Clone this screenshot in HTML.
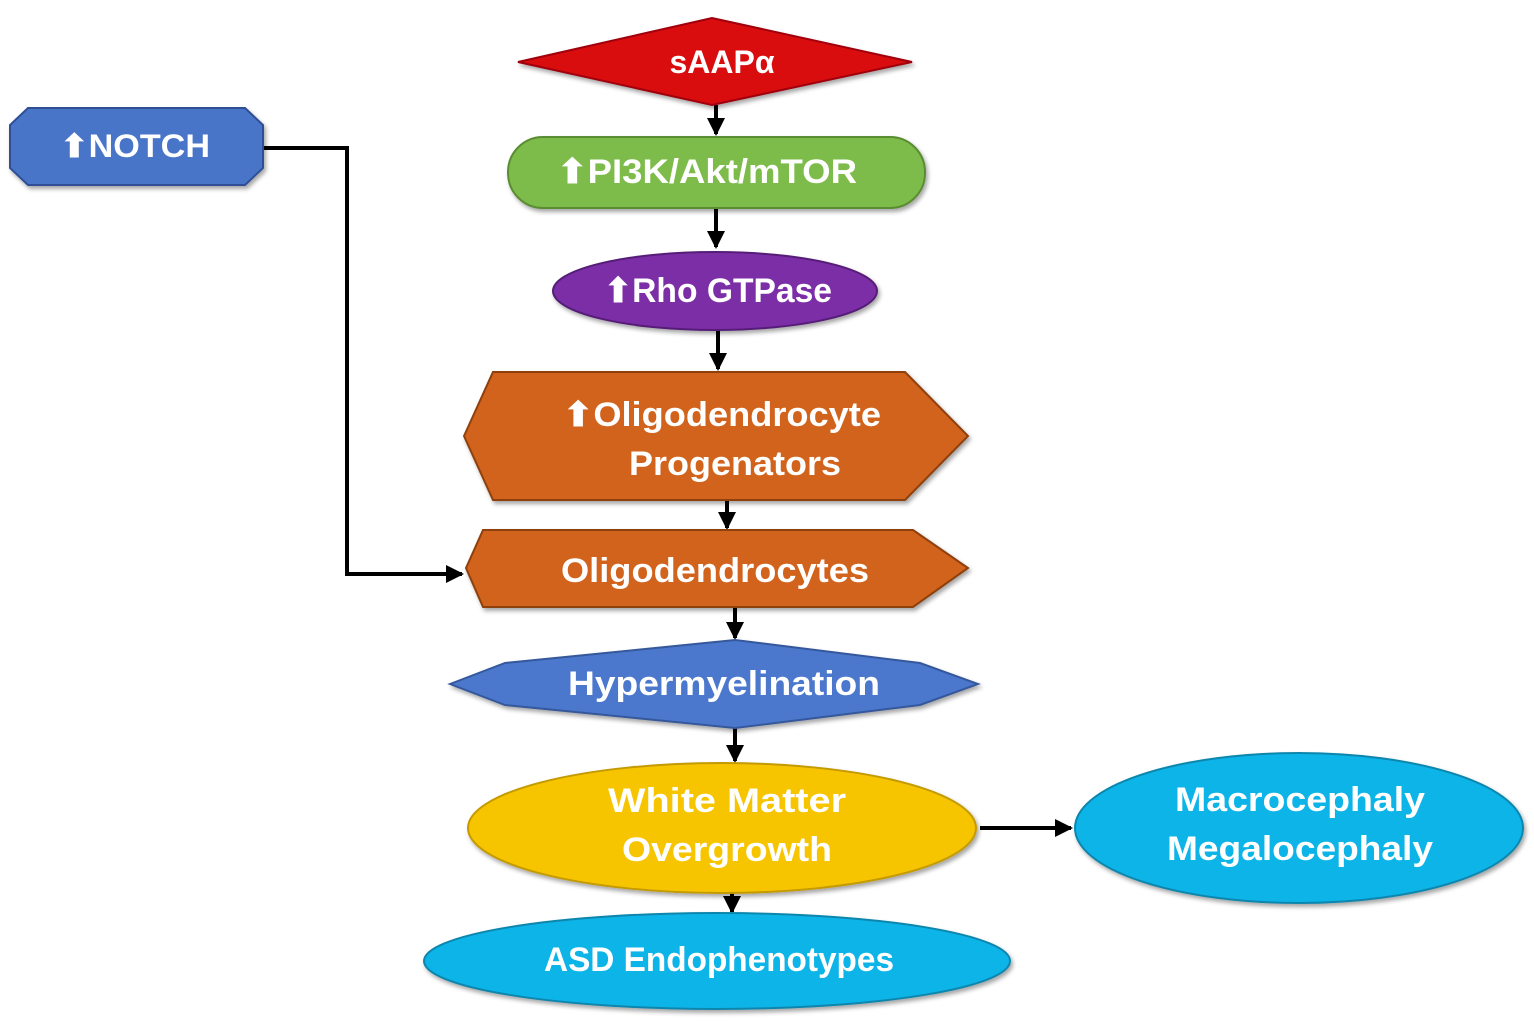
<!DOCTYPE html>
<html><head><meta charset="utf-8"><style>
html,body{margin:0;padding:0;background:#fff;}
svg{display:block;}
text{font-family:"Liberation Sans",sans-serif;font-weight:bold;fill:#fff;text-anchor:middle;dominant-baseline:central;}
</style></head><body>
<svg width="1534" height="1021" viewBox="0 0 1534 1021">
<defs>
<marker id="a" markerWidth="4.5" markerHeight="4.5" refX="4" refY="2.25" orient="auto" markerUnits="strokeWidth"><path d="M0,0 L4.5,2.25 L0,4.5 z" fill="#000"/></marker>
<filter id="s" x="-10%" y="-10%" width="120%" height="130%"><feDropShadow dx="2" dy="3" stdDeviation="2" flood-color="#000" flood-opacity="0.35"/></filter>
</defs>
<g stroke="#000" stroke-width="4" fill="none">
<line x1="716" y1="105" x2="716" y2="134" marker-end="url(#a)"/>
<line x1="716" y1="208" x2="716" y2="247" marker-end="url(#a)"/>
<line x1="718" y1="330" x2="718" y2="369" marker-end="url(#a)"/>
<line x1="727" y1="500" x2="727" y2="528" marker-end="url(#a)"/>
<line x1="735" y1="607" x2="735" y2="638" marker-end="url(#a)"/>
<line x1="735" y1="728" x2="735" y2="761" marker-end="url(#a)"/>
<line x1="732" y1="893" x2="732" y2="912" marker-end="url(#a)"/>
<line x1="980" y1="828" x2="1071" y2="828" marker-end="url(#a)"/>
<polyline points="263,148 347,148 347,574 462,574" marker-end="url(#a)"/>
</g>
<g filter="url(#s)">
<polygon points="518,62 712,18 912,62 712,105" fill="#d90b0e" stroke="#a00008" stroke-width="2"/>
<polygon points="28,108 245,108 263,125 263,168 245,185 28,185 10,168 10,125" fill="#4a74c9" stroke="#2f4f96" stroke-width="2"/>
<rect x="508" y="137" width="417" height="71" rx="35" fill="#7dbc4b" stroke="#5a8c33" stroke-width="2"/>
<ellipse cx="715" cy="291" rx="162" ry="39" fill="#7b2fa7" stroke="#561f78" stroke-width="2"/>
<polygon points="464,436 493,372 905,372 968,436 905,500 493,500" fill="#d2631b" stroke="#8e3f0c" stroke-width="2"/>
<polygon points="466,568 483,530 913,530 968,568 913,607 483,607" fill="#d2631b" stroke="#8e3f0c" stroke-width="2"/>
<polygon points="450,684 505,663 735,640 920,663 978,684 920,705 735,728 505,705" fill="#4c78cd" stroke="#34589c" stroke-width="2"/>
<ellipse cx="722" cy="828" rx="254" ry="65" fill="#f6c500" stroke="#c49a00" stroke-width="2"/>
<ellipse cx="1299" cy="828" rx="224" ry="75" fill="#0db4e8" stroke="#0a86ad" stroke-width="2"/>
<ellipse cx="717" cy="961" rx="293" ry="48" fill="#0db4e8" stroke="#0a86ad" stroke-width="2"/>
</g>
<g transform="scale(1,1)">
<text x="722" y="62" font-size="32">sAAPα</text>
<text x="135" y="146" font-size="32" textLength="150" lengthAdjust="spacingAndGlyphs">⬆NOTCH</text>
<text x="707" y="172" font-size="34" textLength="300" lengthAdjust="spacingAndGlyphs">⬆PI3K/Akt/mTOR</text>
<text x="718" y="291" font-size="34" textLength="228" lengthAdjust="spacingAndGlyphs">⬆Rho GTPase</text>
<text x="722" y="415" font-size="34" textLength="318" lengthAdjust="spacingAndGlyphs">⬆Oligodendrocyte</text>
<text x="735" y="464" font-size="34" textLength="212" lengthAdjust="spacingAndGlyphs">Progenators</text>
<text x="715" y="571" font-size="34" textLength="308" lengthAdjust="spacingAndGlyphs">Oligodendrocytes</text>
<text x="724" y="684" font-size="34" textLength="312" lengthAdjust="spacingAndGlyphs">Hypermyelination</text>
<text x="727" y="801" font-size="34" textLength="238" lengthAdjust="spacingAndGlyphs">White Matter</text>
<text x="727" y="850" font-size="34" textLength="210" lengthAdjust="spacingAndGlyphs">Overgrowth</text>
<text x="1300" y="800" font-size="34" textLength="250" lengthAdjust="spacingAndGlyphs">Macrocephaly</text>
<text x="1300" y="849" font-size="34" textLength="266" lengthAdjust="spacingAndGlyphs">Megalocephaly</text>
<text x="719" y="960" font-size="34" textLength="350" lengthAdjust="spacingAndGlyphs">ASD Endophenotypes</text>
</g>
</svg>
</body></html>
